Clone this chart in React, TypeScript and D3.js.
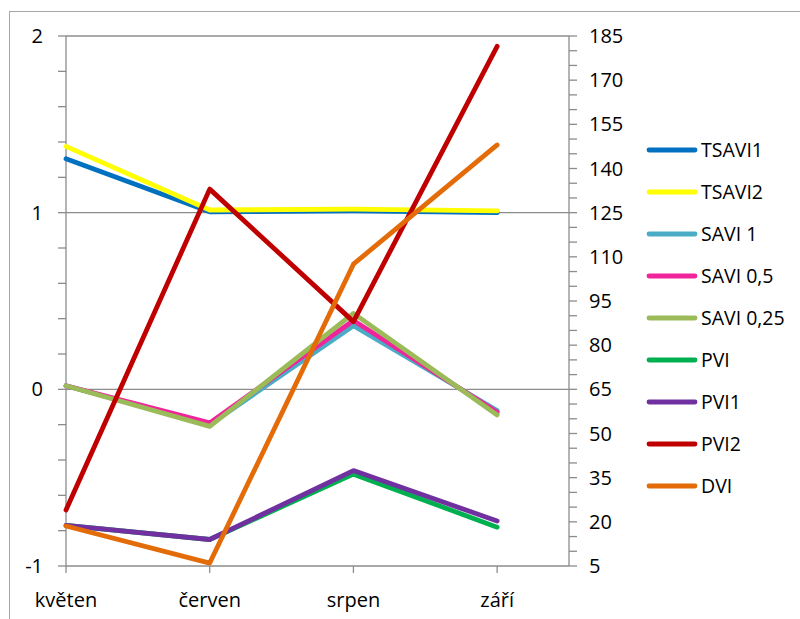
import React from "react";
import * as d3 from "d3";

const months = ["květen", "červen", "srpen", "září"];

const tsavi1 = [1.305, 1.005, 1.01, 1.0];
const tsavi2 = [1.375, 1.015, 1.02, 1.01];
const savi1 = [0.02, -0.2, 0.36, -0.12];
const savi05 = [0.02, -0.19, 0.39, -0.13];
const savi025 = [0.02, -0.21, 0.43, -0.145];
const pvi = [-0.77, -0.85, -0.48, -0.78];
const pvi1 = [-0.77, -0.85, -0.46, -0.745];
// secondary axis
const pvi2 = [24, 133, 88, 181.5];
const dvi = [18.6, 6, 107.5, 148];

const leftTicks = [-1, 0, 1, 2];
const rightTicks = [5, 20, 35, 50, 65, 80, 95, 110, 125, 140, 155, 170, 185];

const seriesNames = ["TSAVI1", "TSAVI2", "SAVI 1", "SAVI 0,5", "SAVI 0,25", "PVI", "PVI1", "PVI2", "DVI"];
const seriesColors = ["#0070C0", "#FFFF00", "#4BACC6", "#F0259B", "#9BBB59", "#00B050", "#7030A0", "#C00000", "#E36C09"];

export default function App() {
  const left = 66, right = 569, top = 36, bottom = 566;
  const x = d3.scaleLinear().domain([0, 3.5]).range([left, right]);
  const yL = d3.scaleLinear().domain([-1, 2]).range([bottom, top]);
  const yR = d3.scaleLinear().domain([5, 185]).range([bottom, top]);
  const font = "Open Sans, Liberation Sans, sans-serif";

  const lineL = d3.line<number>().x((_, i) => x(i)).y((d) => yL(d));
  const lineR = d3.line<number>().x((_, i) => x(i)).y((d) => yR(d));

  const data = [tsavi1, tsavi2, savi1, savi05, savi025, pvi, pvi1, pvi2, dvi];
  const secondary = [false, false, false, false, false, false, false, true, true];

  const minorLeft = d3.range(-1, 2.0001, 0.2);
  const minorRight = d3.range(5, 185.001, 5);

  return (
    <svg width={800} height={619} style={{ position: "absolute", left: 0, top: 0 }}>
      <rect x={0} y={0} width={800} height={619} fill="#fff" />
      <rect x={9.5} y={11.5} width={800} height={620} fill="none" stroke="#a6a6a6" />
      {/* gridlines */}
      {leftTicks.filter((t) => t > -1).map((t) => (
        <line key={t} x1={left} x2={right} y1={yL(t)} y2={yL(t)} stroke="#8c8c8c" strokeWidth={1.3} />
      ))}
      {/* axes */}
      <line x1={left} x2={left} y1={top} y2={bottom} stroke="#8c8c8c" strokeWidth={1.3} />
      <line x1={right} x2={right} y1={top} y2={bottom} stroke="#8c8c8c" strokeWidth={1.3} />
      <line x1={left} x2={right} y1={bottom} y2={bottom} stroke="#8c8c8c" strokeWidth={1.3} />
      {minorLeft.map((t, i) => (
        <line key={"ml" + i} x1={left - 8} x2={left} y1={yL(t)} y2={yL(t)} stroke="#8c8c8c" strokeWidth={1.3} />
      ))}
      {minorRight.map((t, i) => (
        <line key={"mr" + i} x1={right} x2={right + 8} y1={yR(t)} y2={yR(t)} stroke="#8c8c8c" strokeWidth={1.3} />
      ))}
      {months.map((m, i) => (
        <line key={"ct" + i} x1={x(i)} x2={x(i)} y1={bottom} y2={bottom + 7} stroke="#8c8c8c" strokeWidth={1.3} />
      ))}
      {leftTicks.map((t) => (
        <text key={"lt" + t} x={43} y={yL(t)} dy="0.35em" textAnchor="end" fontFamily={font} fontSize={20} fill="#000">
          {t}
        </text>
      ))}
      {rightTicks.map((t) => (
        <text key={"rt" + t} x={589} y={yR(t)} dy="0.35em" textAnchor="start" fontFamily={font} fontSize={20} fill="#000">
          {t}
        </text>
      ))}
      {months.map((m, i) => (
        <text key={"cl" + i} x={x(i)} y={600} dy="0.35em" textAnchor="middle" fontFamily={font} fontSize={20} fill="#000">
          {m}
        </text>
      ))}
      {/* series */}
      {data.map((d, i) => (
        <path
          key={"s" + i}
          d={(secondary[i] ? lineR(d) : lineL(d)) || ""}
          fill="none"
          stroke={seriesColors[i]}
          strokeWidth={4.8}
          strokeLinejoin="round"
          strokeLinecap="round"
        />
      ))}
      {/* legend */}
      {seriesNames.map((n, i) => (
        <g key={"lg" + i} transform={`translate(0, ${150 + i * 42})`}>
          <line x1={649} x2={695} y1={0} y2={0} stroke={seriesColors[i]} strokeWidth={4.8} strokeLinecap="round" />
          <text x={701} y={0} dy="0.35em" fontFamily={font} fontSize={19.5} fill="#000">
            {n}
          </text>
        </g>
      ))}
    </svg>
  );
}
